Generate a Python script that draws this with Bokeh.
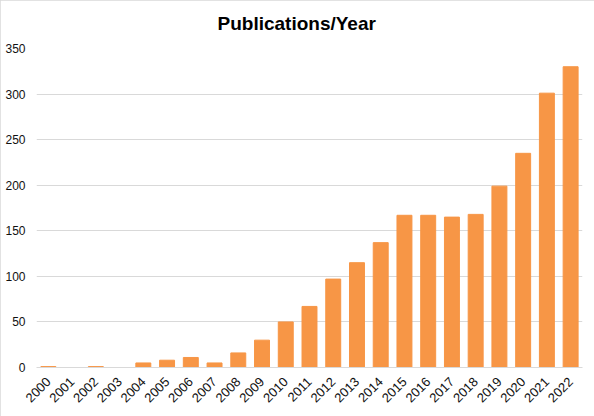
from bokeh.plotting import figure
from bokeh.models import FactorRange, Range1d, FixedTicker
from bokeh.embed import file_html
from bokeh.resources import INLINE

# publications per year
years = [str(y) for y in range(2000, 2023)]
counts = [1, 0, 1, 0, 5, 8, 11, 5, 16, 30, 50, 67, 97, 115, 137,
          167, 167, 165, 168, 199, 235, 301, 330]
y_ticks = [0, 50, 100, 150, 200, 250, 300, 350]

FONT = "Liberation Sans"

p = figure(x_range=FactorRange(*years, range_padding=0),
           y_range=Range1d(0, 350),
           width=594, height=416,
           output_backend="svg", toolbar_location=None,
           min_border_left=36, min_border_right=12,
           min_border_top=48, min_border_bottom=49)

# thin grey frame round the whole chart, drawn inside the canvas
p.styles = {"outline": "1px solid #d9d9d9", "outline-offset": "-1px"}

p.vbar(x=years, top=counts, width=0.63, color="#f79646")

p.title.text = "Publications/Year"
p.title.text_font = FONT
p.title.text_font_size = "19px"
p.title.text_font_style = "bold"
p.title.text_color = "black"
p.title.align = "left"
p.title.offset = 181
p.title.vertical_align = "top"
p.title.standoff = 25

p.outline_line_color = None
p.xgrid.grid_line_color = None
p.ygrid.grid_line_color = "#d9d9d9"

p.yaxis.ticker = FixedTicker(ticks=y_ticks)
p.yaxis.axis_line_color = None
p.yaxis.major_tick_line_color = None
p.yaxis.minor_tick_line_color = None
p.yaxis.major_tick_out = 0
p.yaxis.major_tick_in = 0
p.yaxis.major_label_standoff = 11
p.yaxis.major_label_text_font = FONT
p.yaxis.major_label_text_font_size = "12px"
p.yaxis.major_label_text_color = "#111111"

p.xaxis.axis_line_color = "#d9d9d9"
p.xaxis.major_tick_line_color = None
p.xaxis.minor_tick_line_color = None
p.xaxis.major_tick_out = 0
p.xaxis.major_tick_in = 0
p.xaxis.major_label_orientation = 0.785
p.xaxis.major_label_standoff = 12
p.xaxis.major_label_text_font = FONT
p.xaxis.major_label_text_font_size = "13px"
p.xaxis.major_label_text_color = "#111111"

open("out.html", "w").write(file_html(p, INLINE))
